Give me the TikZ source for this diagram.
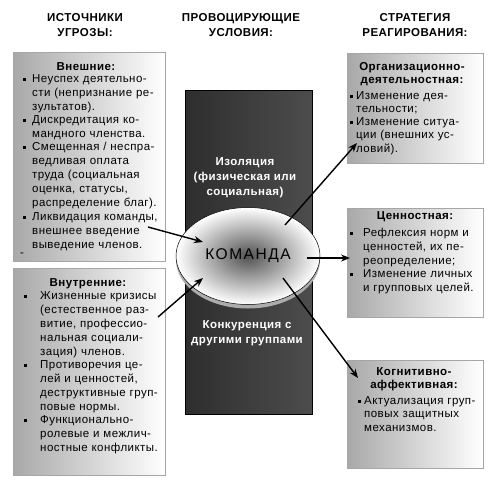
\documentclass[tikz,border=0pt]{standalone}
\usepackage{fontspec}
\setmainfont{Liberation Sans}[LetterSpace=4]
\usetikzlibrary{arrows.meta,shapes.geometric}

\newcommand{\sq}{\rule[0.25ex]{3pt}{3pt}}
\newcommand{\itm}[2]{\makebox[#1][l]{\rule{0pt}{10pt}\sq}\parbox[t]{150pt}{#2}}

\begin{document}
\begin{tikzpicture}[x=1pt,y=-1pt,
  every node/.style={font=\fontsize{11.5}{14}\selectfont},
  title/.style={font=\fontsize{11.5}{15}\selectfont\bfseries, align=center},
  box/.style={draw=gray!70, line width=0.8pt, left color=black!34, right color=white},
  head/.style={font=\fontsize{11.5}{13.5}\selectfont\bfseries, align=center, inner sep=0pt},
  list/.style={anchor=north west, inner sep=0pt, text width=170pt, align=left},
  dark/.style={font=\fontsize{11.5}{15}\selectfont\bfseries, text=white, align=center},
  arr/.style={-{Stealth[length=9pt,width=7pt]}, line width=1.4pt}]
\useasboundingbox (0,0) rectangle (500,485);
%\draw[step=50,gray,very thin] (0,0) grid (500,485);
\node[title] (src) at (85,25.5) {ИСТОЧНИКИ\\УГРОЗЫ:};
\node[title] (cond) at (241,25.5) {ПРОВОЦИРУЮЩИЕ\\УСЛОВИЯ:};
\node[title] (str) at (415,25.5) {СТРАТЕГИЯ\\РЕАГИРОВАНИЯ:};
% boxes
\node[box, minimum width=152pt, minimum height=209pt] (ext) at (89,156.5) {};
\node[box, minimum width=152pt, minimum height=207pt] (int) at (89,371.5) {};
\node[box, minimum width=136pt, minimum height=110pt] (org) at (415,108) {};
\node[box, minimum width=136pt, minimum height=109pt] (val) at (415,262.5) {};
\node[box, minimum width=136pt, minimum height=108pt] (cog) at (415,414) {};
\node[draw=black, line width=0.8pt, left color=black!82, right color=black!70,
  minimum width=127pt, minimum height=324pt] (zone) at (248.5,252) {};
% sources
\node[head] (ext-h) at (86,67) {Внешние:};
\node[list] (ext-l) at (23,72) {%
\itm{9pt}{Неуспех деятельно-\\сти (непризнание ре-\\зультатов).}\\
\itm{9pt}{Дискредитация ко-\\мандного членства.}\\
\itm{9pt}{Смещенная / неспра-\\ведливая оплата\\труда (социальная\\оценка, статусы,\\распределение благ).}\\
\itm{9pt}{Ликвидация команды,\\внешнее введение\\выведение членов.}};
\node (dash) at (22,255) {-};
\node[head] (int-h) at (88,284) {Внутренние:};
\node[list] (int-l) at (24,289) {%
\itm{16pt}{Жизненные кризисы\\(естественное раз-\\витие, профессио-\\нальная социали-\\зация) членов.}\\
\itm{16pt}{Противоречия це-\\лей и ценностей,\\деструктивные груп-\\повые нормы.}\\
\itm{16pt}{Функционально-\\ролевые и межлич-\\ностные конфликты.}};
% strategies
\node[head] (org-h) at (412,74) {Организационно-\\деятельностная:};
\node[list, font=\fontsize{11.5}{13.5}\selectfont] (org-l) at (350,89) {%
\itm{6pt}{Изменение дея-\\тельности;}\\
\itm{6pt}{Изменение ситуа-\\ции (внешних ус-\\ловий).}};
\node[head] (val-h) at (415,217) {Ценностная:};
\node[list] (val-l) at (350,226) {%
\itm{13pt}{Рефлексия норм и\\ценностей, их пе-\\реопределение;}\\
\itm{13pt}{Изменение личных\\и групповых целей.}};
\node[head] (cog-h) at (414,379) {Когнитивно-\\аффективная:};
\node[list, font=\fontsize{11.5}{13.5}\selectfont] (cog-l) at (358,394) {%
\itm{6pt}{Актуализация груп-\\повых защитных\\механизмов.}};
% conditions
\node[dark] (iso) at (245,178) {Изоляция\\(физическая или\\социальная)};
\node[dark] (comp) at (247,333.5) {Конкуренция с\\другими группами};
\node[ellipse, fill=gray!65, minimum width=144pt, minimum height=97pt] (shadow) at (248,260) {};
\node[ellipse, draw=black, line width=0.5pt, inner color=black!68, outer color=white, minimum width=144pt, minimum height=97pt,
  font=\fontsize{15.5}{18}\selectfont\addfontfeature{LetterSpace=10}] (team) at (248,256) {КОМАНДА};
% arrows
\coordinate (a1) at (148,227);
\coordinate (b1) at (203,242);
\coordinate (a2) at (158,317);
\coordinate (b2) at (203,278);
\coordinate (c1) at (285,225);
\coordinate (d1) at (357,143);
\coordinate (c2) at (307,258);
\coordinate (d2) at (350,258);
\coordinate (c3) at (283,278);
\coordinate (d3) at (358,378);
\draw[arr] (a1) -- (b1);
\draw[arr] (a2) -- (b2);
\draw[arr] (c1) -- (d1);
\draw[arr] (c2) -- (d2);
\draw[arr] (c3) -- (d3);
\end{tikzpicture}
\end{document}
